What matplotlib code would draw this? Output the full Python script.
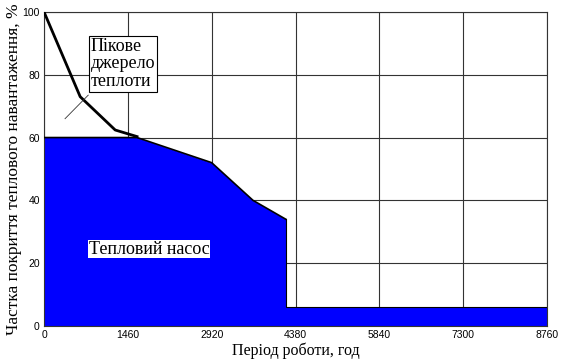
import matplotlib.pyplot as plt

# heat pump share (blue area)
hp_hours = [0, 1620, 2920, 3640, 4210, 4210, 8760]
hp_share = [60, 60, 52, 40, 34, 6, 6]

# peak source curve (upper black line)
peak_hours = [0, 630, 1240, 1620]
peak_share = [100, 73, 62.4, 60.3]

# leader line of the "peak source" label
lead_hours = [366, 770]
lead_share = [66, 73.5]

xticks = [0, 1460, 2920, 4380, 5840, 7300, 8760]
yticks = [0, 20, 40, 60, 80, 100]

fig = plt.figure(figsize=(5.68, 3.61), dpi=100)
ax = fig.add_axes([0.0775, 0.097, 0.8855, 0.87])

ax.fill_between(hp_hours, hp_share, 0, color="#0000ff", zorder=2, linewidth=0)
ax.plot(hp_hours[:5], hp_share[:5], color="black", linewidth=1.2, zorder=3)
ax.plot(hp_hours[4:], hp_share[4:], color="black", linewidth=0.8, zorder=3)
ax.plot(peak_hours, peak_share, color="black", linewidth=2, zorder=3)
ax.plot(lead_hours, lead_share, color="#333333", linewidth=0.6, zorder=3)

ax.set_xlim(0, 8760)
ax.set_ylim(0, 100)
ax.set_xticks(xticks)
ax.set_yticks(yticks)
ax.tick_params(length=0, labelsize=7.5, pad=3)
for lbl in ax.get_xticklabels() + ax.get_yticklabels():
    lbl.set_fontfamily("Liberation Sans")
ax.grid(True, color="#333333", linewidth=0.8, zorder=1)
ax.set_axisbelow(True)
for s in ax.spines.values():
    s.set_color("#333333")
    s.set_linewidth(0.8)

serif = "Liberation Serif"
ax.set_xlabel("Період роботи, год", fontsize=11.5, fontfamily=serif)
ax.xaxis.set_label_coords(0.5, -0.052)
ax.set_ylabel("Частка покриття теплового навантаження, %", fontsize=12.5,
              fontfamily=serif, labelpad=0)

ax.text(810, 91.8, "Пікове\nджерело\nтеплоти", fontsize=13, fontfamily=serif,
        va="top", ha="left", linespacing=1.05,
        bbox=dict(boxstyle="square,pad=0.1", fc="white", ec="black", lw=0.8),
        zorder=5)
ax.text(1830, 24.5, "Тепловий насос", fontsize=13, fontfamily=serif,
        ha="center", va="center",
        bbox=dict(boxstyle="square,pad=0.05", fc="white", ec="none"), zorder=5)

fig.savefig("out.png", dpi=100)
